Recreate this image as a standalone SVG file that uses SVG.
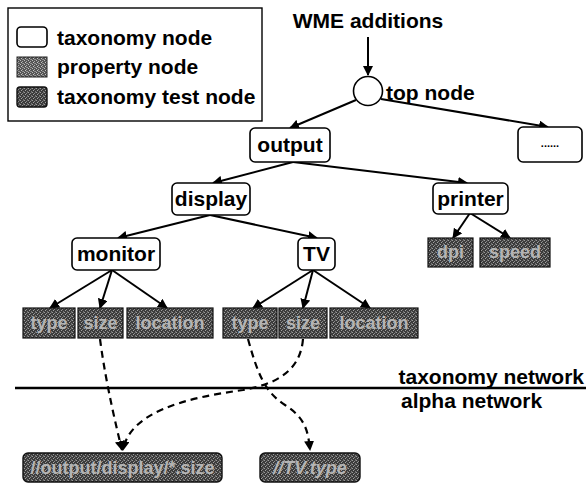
<svg xmlns="http://www.w3.org/2000/svg" width="586" height="483" viewBox="0 0 586 483">
  <defs>
    <!-- dithered grey fill used for property and test nodes -->
    <pattern id="dither" width="4" height="4" patternUnits="userSpaceOnUse">
      <rect width="4" height="4" fill="#3c3c3c"/>
      <rect x="0" y="0" width="1" height="1" fill="#9a9a9a"/>
      <rect x="2" y="1" width="1" height="1" fill="#8a8a8a"/>
      <rect x="1" y="2" width="1" height="1" fill="#a0a0a0"/>
      <rect x="3" y="3" width="1" height="1" fill="#7a7a7a"/>
      <rect x="3" y="0" width="1" height="1" fill="#666"/>
    </pattern>
    <pattern id="ditherLight" width="4" height="4" patternUnits="userSpaceOnUse">
      <rect width="4" height="4" fill="#555"/>
      <rect x="0" y="0" width="1" height="1" fill="#bbb"/>
      <rect x="2" y="1" width="1" height="1" fill="#aaa"/>
      <rect x="1" y="2" width="1" height="1" fill="#c4c4c4"/>
      <rect x="3" y="3" width="1" height="1" fill="#999"/>
      <rect x="2" y="3" width="1" height="1" fill="#888"/>
    </pattern>
    <marker id="arrow" viewBox="0 0 10 10" refX="9" refY="5" markerWidth="10" markerHeight="10" markerUnits="userSpaceOnUse" orient="auto">
      <path d="M0,0 L10,5 L0,10 z" fill="#000"/>
    </marker>
    <style>
      text { font-family: "Liberation Sans", Arial, sans-serif; font-weight: bold; }
      .lbl { font-size: 21px; fill: #000; }
      .ctr { text-anchor: middle; }
      .tax { fill: #fff; stroke: #000; stroke-width: 1.6; }
      .prop { fill: url(#dither); stroke: #111; stroke-width: 1.2; }
      .test { fill: url(#dither); stroke: #111; stroke-width: 1.4; }
      .ptxt { font-size: 18px; fill: #b4b4b4; text-anchor: middle; }
      .edge { fill: none; stroke: #000; stroke-width: 2; marker-end: url(#arrow); }
      .dash { fill: none; stroke: #000; stroke-width: 2.2; stroke-dasharray: 7 5; marker-end: url(#arrow); }
    </style>
  </defs>

  <rect width="586" height="483" fill="#fff"/>

  <!-- legend -->
  <g id="legend">
    <rect x="8" y="8" width="254" height="113" fill="#fff" stroke="#000" stroke-width="1.4"/>
    <rect x="17" y="27" width="30" height="20" rx="4" class="tax"/>
    <text x="57" y="45" class="lbl">taxonomy node</text>
    <rect x="17" y="57" width="30" height="20" fill="url(#ditherLight)" stroke="#222" stroke-width="1"/>
    <text x="57" y="74" class="lbl">property node</text>
    <rect x="17" y="87" width="30" height="20" rx="3" class="test"/>
    <text x="57" y="104" class="lbl">taxonomy test node</text>
  </g>

  <text id="wme-additions" x="368" y="28" class="lbl ctr">WME additions</text>

  <!-- connectors -->
  <g id="connectors">
    <path class="edge" d="M368,37 L368,75"/>
    <path class="edge" d="M356,100 L290,128"/>
    <path class="edge" d="M381,99 L548,127"/>
    <path class="edge" d="M293,162 L213,183"/>
    <path class="edge" d="M293,162 L467,183"/>
    <path class="edge" d="M210,215 L118,238"/>
    <path class="edge" d="M210,215 L317,238"/>
    <path class="edge" d="M112,270 L50,308"/>
    <path class="edge" d="M112,270 L100,308"/>
    <path class="edge" d="M112,270 L167,308"/>
    <path class="edge" d="M313,270 L253,308"/>
    <path class="edge" d="M313,270 L303,308"/>
    <path class="edge" d="M313,270 L370,308"/>
    <path class="edge" d="M470,213 L453,238"/>
    <path class="edge" d="M470,213 L510,238"/>
    <!-- links from the taxonomy network into the alpha network -->
    <path class="dash" d="M100,339 C104,370 112,410 122,450"/>
    <path class="dash" d="M248,339 C258,375 265,392 285,405 S308,430 310,450"/>
    <path class="dash" d="M303,339 C300,375 270,385 243,390 C185,398 130,412 123,450"/>
  </g>

  <!-- network boundary -->
  <g id="boundary">
    <line x1="15" y1="388" x2="586" y2="388" stroke="#000" stroke-width="2.5"/>
    <text x="584" y="384" class="lbl" text-anchor="end">taxonomy network</text>
    <text x="401" y="408" class="lbl">alpha network</text>
  </g>

  <!-- taxonomy nodes -->
  <g id="top-node">
    <circle cx="368" cy="91" r="14.5" fill="#fff" stroke="#000" stroke-width="1.6"/>
    <text x="386" y="100" class="lbl">top node</text>
  </g>
  <g id="output">
    <rect x="250" y="128" width="80" height="34" rx="5" class="tax"/>
    <text x="290" y="152" class="lbl ctr">output</text>
  </g>
  <g id="other">
    <rect x="518" y="127" width="64" height="35" rx="5" class="tax"/>
    <text x="550" y="147" class="ctr" font-size="11">......</text>
  </g>
  <g id="display">
    <rect x="172" y="183" width="78" height="32" rx="5" class="tax"/>
    <text x="211" y="206" class="lbl ctr">display</text>
  </g>
  <g id="printer">
    <rect x="433" y="183" width="75" height="31" rx="5" class="tax"/>
    <text x="470.5" y="206" class="lbl ctr">printer</text>
  </g>
  <g id="monitor">
    <rect x="72" y="238" width="88" height="32" rx="5" class="tax"/>
    <text x="116" y="261" class="lbl ctr">monitor</text>
  </g>
  <g id="tv">
    <rect x="298" y="238" width="37" height="32" rx="5" class="tax"/>
    <text x="316.5" y="261" class="lbl ctr">TV</text>
  </g>

  <!-- property nodes -->
  <g id="monitor-type">
    <rect x="23" y="308" width="52" height="30" class="prop"/>
    <text x="49" y="329" class="ptxt">type</text>
  </g>
  <g id="monitor-size">
    <rect x="78" y="308" width="45" height="30" class="prop"/>
    <text x="100.5" y="329" class="ptxt">size</text>
  </g>
  <g id="monitor-location">
    <rect x="127" y="308" width="86" height="30" class="prop"/>
    <text x="170" y="329" class="ptxt">location</text>
  </g>
  <g id="tv-type">
    <rect x="223" y="308" width="54" height="30" class="prop"/>
    <text x="250" y="329" class="ptxt">type</text>
  </g>
  <g id="tv-size">
    <rect x="279" y="308" width="48" height="30" class="prop"/>
    <text x="303" y="329" class="ptxt">size</text>
  </g>
  <g id="tv-location">
    <rect x="330" y="308" width="88" height="30" class="prop"/>
    <text x="374" y="329" class="ptxt">location</text>
  </g>
  <g id="printer-dpi">
    <rect x="428" y="238" width="45" height="29" class="prop"/>
    <text x="450.5" y="258" class="ptxt">dpi</text>
  </g>
  <g id="printer-speed">
    <rect x="480" y="238" width="70" height="29" class="prop"/>
    <text x="515" y="258" class="ptxt">speed</text>
  </g>

  <!-- taxonomy test nodes -->
  <g id="test-size">
    <rect x="23" y="453" width="199" height="29" rx="5" class="test"/>
    <text x="122.5" y="474" class="ptxt">//output/display/*.size</text>
  </g>
  <g id="test-tv-type">
    <rect x="260" y="453" width="100" height="29" rx="5" class="test"/>
    <text x="310" y="474" class="ptxt" font-style="italic">//TV.type</text>
  </g>
</svg>
